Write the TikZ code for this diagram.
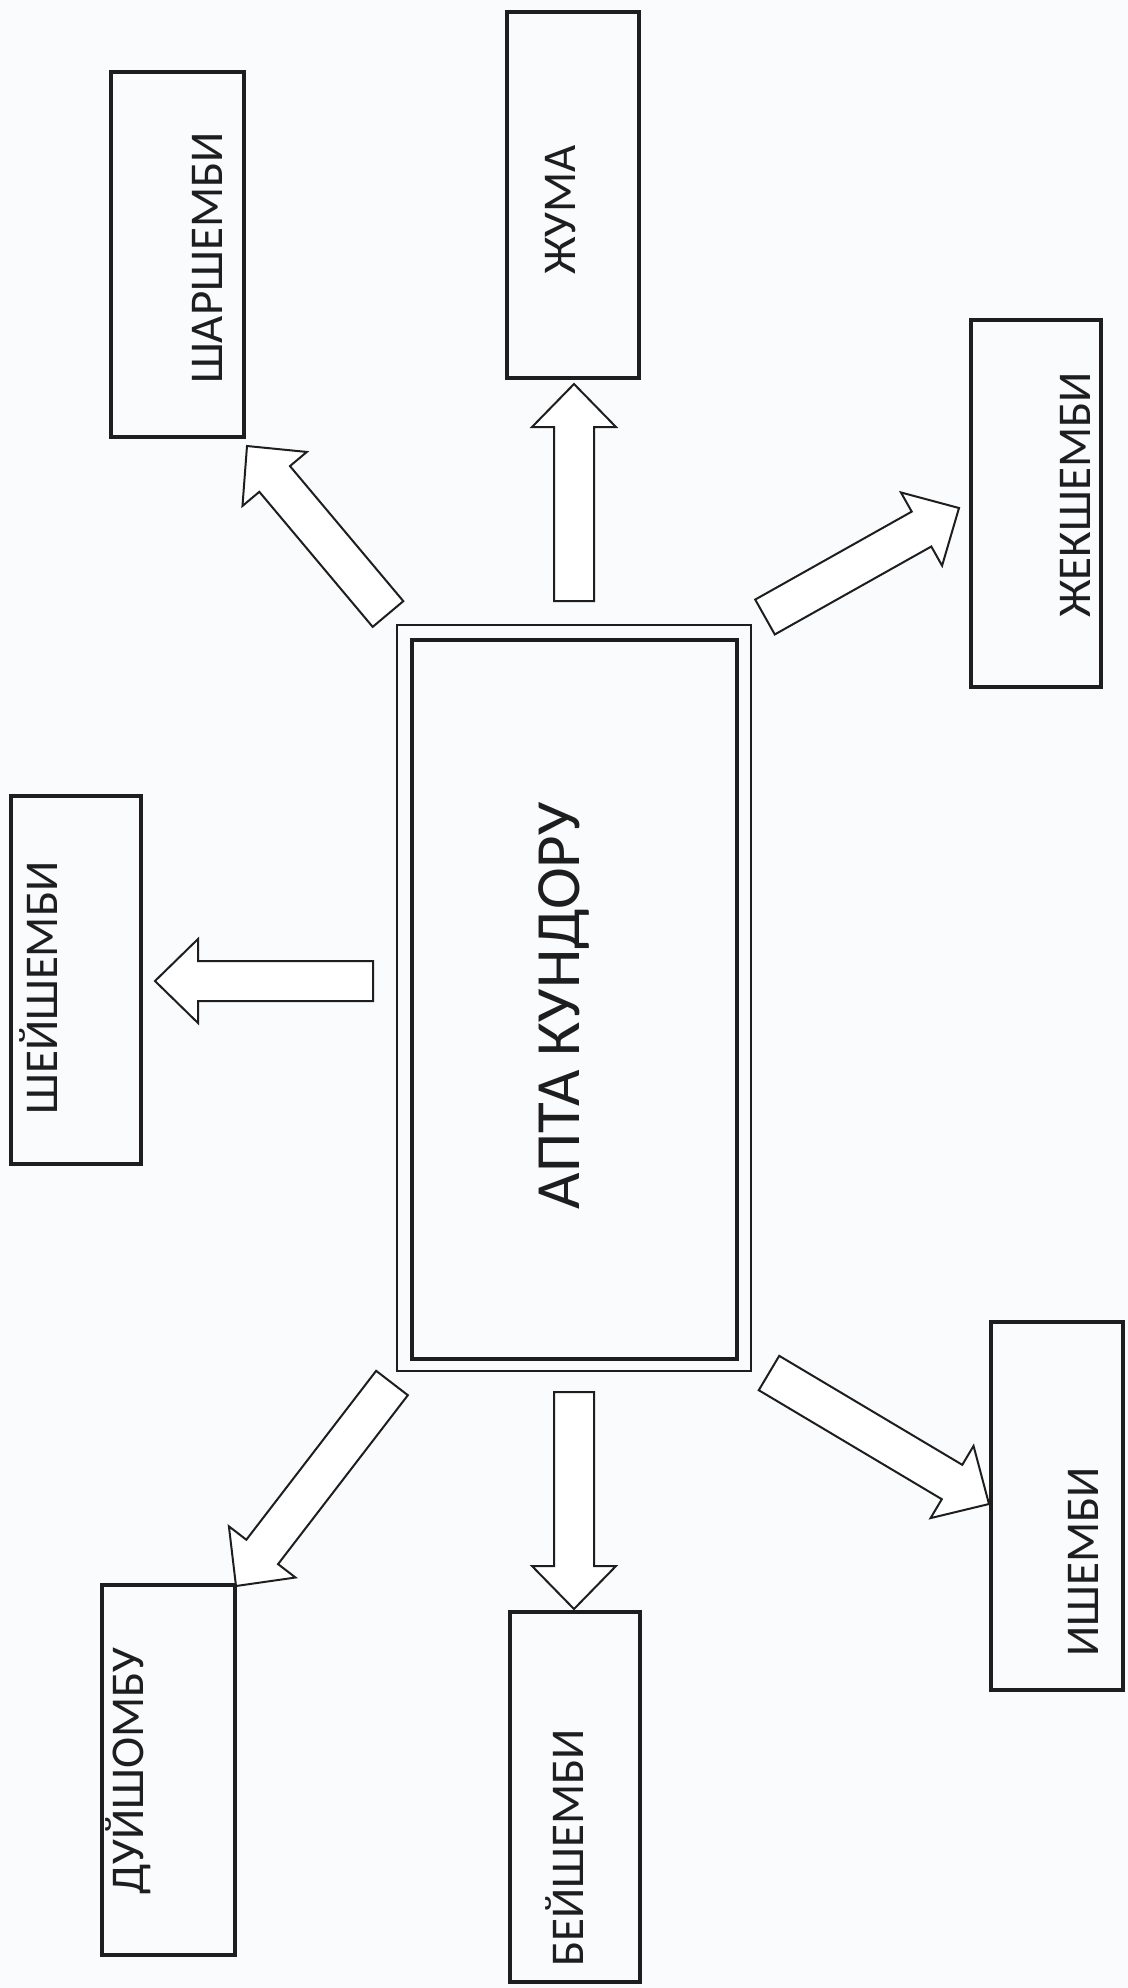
\documentclass[tikz,border=0pt]{standalone}
\usepackage{fontspec}
\setmainfont{Carlito}
\usetikzlibrary{calc}
\definecolor{paper}{RGB}{250,251,253}
\definecolor{ink}{RGB}{30,30,30}
\tikzset{
  daybox/.style={draw=ink, line width=1.6pt, inner sep=0pt, fill=none},
  daytext/.style={rotate=90, anchor=base, inner sep=0pt, text=ink, font=\fontsize{23.5}{28}\selectfont},
  maintext/.style={rotate=90, anchor=base, inner sep=0pt, text=ink, font=\fontsize{31.5}{38}\selectfont},
  barrow/.style={draw=ink, line width=1pt, line join=miter, fill=white},
}
\newcommand\blockarr[2]{%
  \coordinate (hb) at ($(#2)!21.5pt!(#1)$);
  \draw[barrow] ($(#1)!10pt!90:(#2)$) -- ($(hb)!10pt!90:(#2)$) -- ($(hb)!21pt!90:(#2)$)
    -- (#2) -- ($(hb)!21pt!-90:(#2)$) -- ($(hb)!10pt!-90:(#2)$) -- ($(#1)!10pt!-90:(#2)$) -- cycle;}
\begin{document}
\begin{tikzpicture}[x=0.5pt,y=-0.5pt]
\fill[paper] (0,0) rectangle (1128,1988);
\useasboundingbox (0,0) rectangle (1128,1988);
% centre box
\node[draw=ink, line width=1pt, inner sep=0pt, minimum width=177pt, minimum height=373pt] (outer) at (574,998) {};
\node[draw=ink, line width=2pt, inner sep=0pt, minimum width=162.5pt, minimum height=359.5pt] (inner) at (574.5,999.5) {};
\node[maintext] (tmain) at (579,1006) {АПТА КУНДОРУ};
% day boxes
\node[daybox, minimum width=66.5pt, minimum height=182.5pt] (shar) at (177.5,254.5) {};
\node[daytext] (tshar) at (222,258) {ШАРШЕМБИ};
\node[daybox, minimum width=66pt, minimum height=183pt] (jum) at (573,195) {};
\node[daytext] (tjum) at (575,210) {ЖУМА};
\node[daybox, minimum width=65pt, minimum height=183.5pt] (jek) at (1036,503.5) {};
\node[daytext] (tjek) at (1090,495) {ЖЕКШЕМБИ};
\node[daybox, minimum width=65pt, minimum height=184pt] (shey) at (76,980) {};
\node[daytext] (tshey) at (57,988) {ШЕЙШЕМБИ};
\node[daybox, minimum width=66.5pt, minimum height=185pt] (duy) at (168.5,1770) {};
\node[daytext] (tduy) at (143,1771) {ДУЙШОМБУ};
\node[daybox, minimum width=65pt, minimum height=185pt] (bey) at (575,1797) {};
\node[daytext] (tbey) at (583,1848) {БЕЙШЕМБИ};
\node[daybox, minimum width=66pt, minimum height=184pt] (ish) at (1057,1506) {};
\node[daytext] (tish) at (1098,1562) {ИШЕМБИ};
% arrow ends
\coordinate (aJs) at (574,601);  \coordinate (aJt) at (574,384);
\coordinate (aSs) at (373,981);  \coordinate (aSt) at (155,981);
\coordinate (aBs) at (574,1392); \coordinate (aBt) at (574,1609);
\coordinate (aWs) at (388,614);  \coordinate (aWt) at (247,446);
\coordinate (aKs) at (765,617);  \coordinate (aKt) at (959,508);
\coordinate (aDs) at (392,1383); \coordinate (aDt) at (236,1586);
\coordinate (aIs) at (769,1373); \coordinate (aIt) at (989,1504);
\blockarr{aJs}{aJt}
\blockarr{aSs}{aSt}
\blockarr{aBs}{aBt}
\blockarr{aWs}{aWt}
\blockarr{aKs}{aKt}
\blockarr{aDs}{aDt}
\blockarr{aIs}{aIt}
\end{tikzpicture}
\end{document}
